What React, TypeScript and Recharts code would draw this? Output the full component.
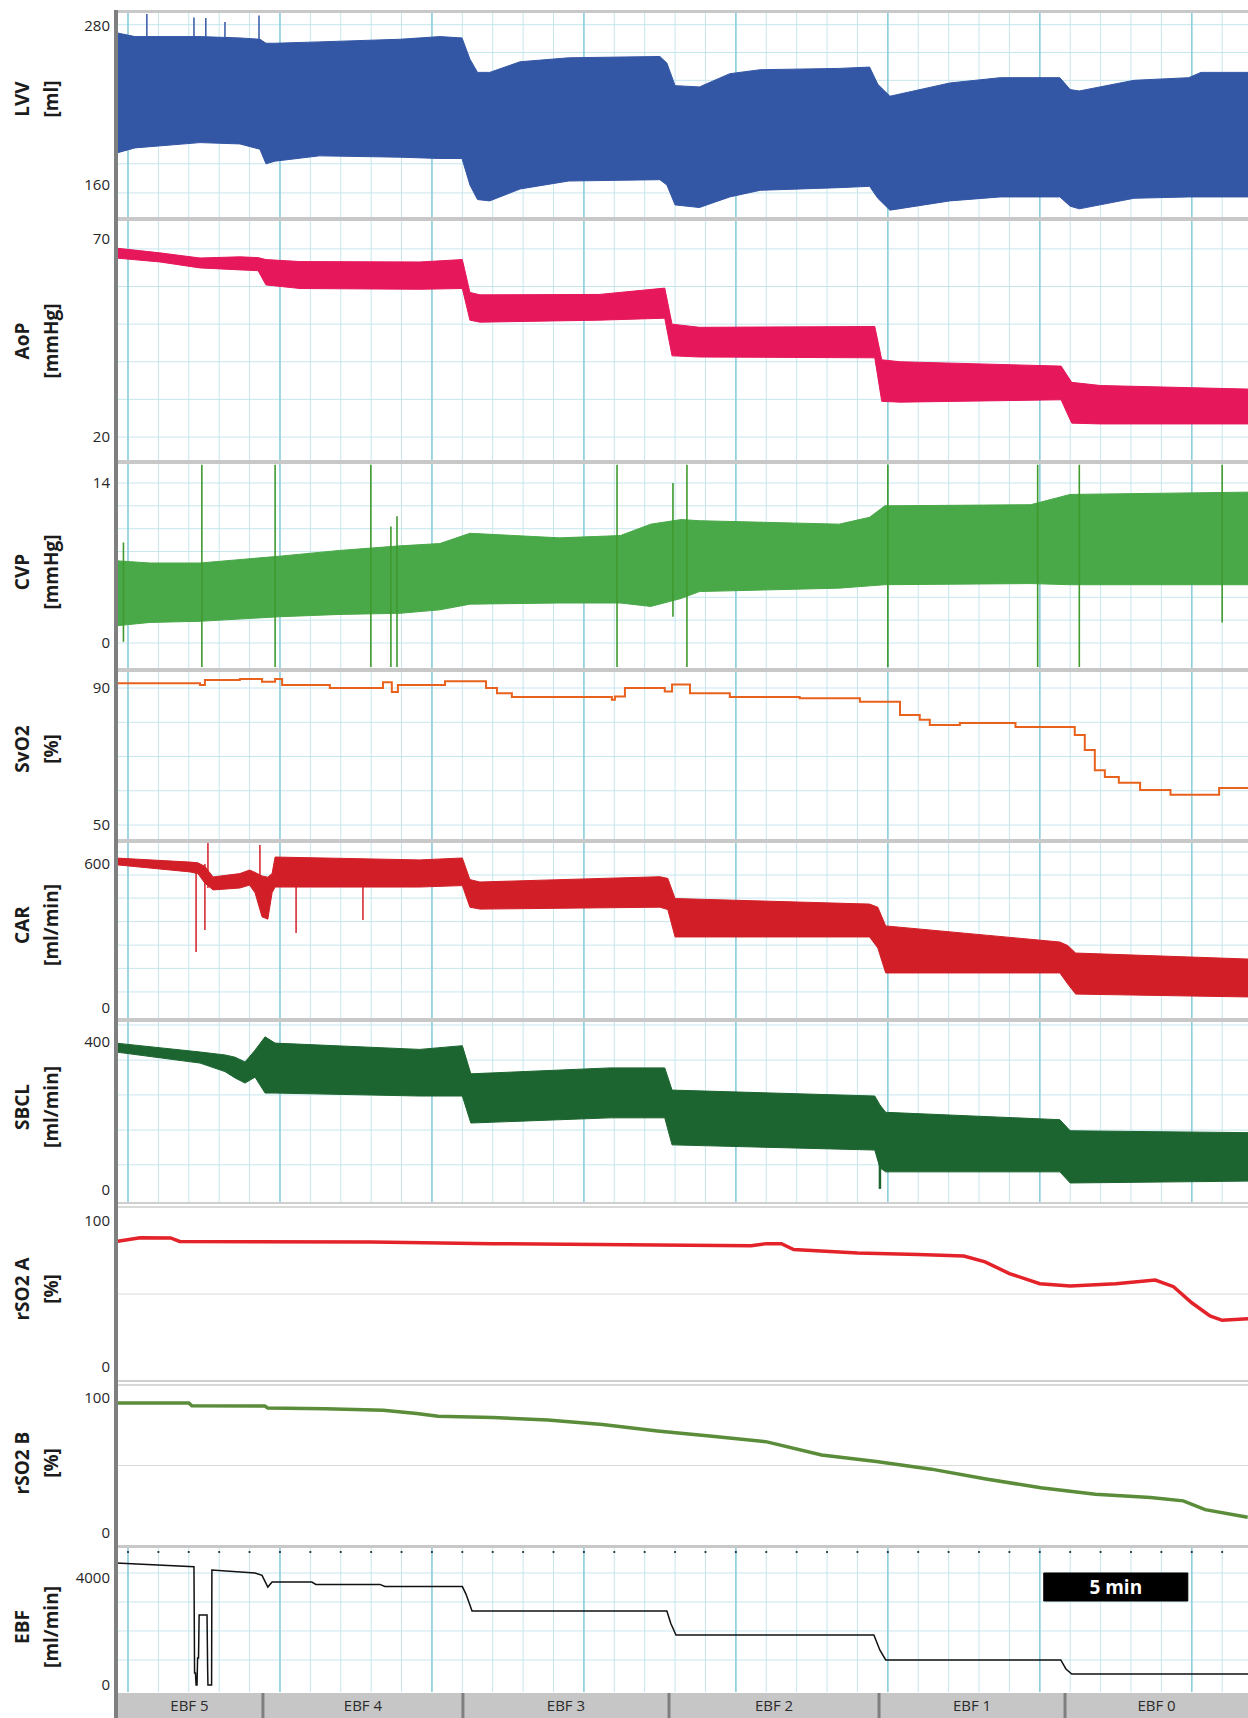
import React from 'react';
import {
  ComposedChart, Area, Line, XAxis, YAxis, CartesianGrid,
  ReferenceLine, ReferenceArea, ReferenceDot,
} from 'recharts';

const FONT = "'Open Sans', 'Noto Sans', 'DejaVu Sans', sans-serif";

// ---------------- time axis (minutes) ----------------
const X_DOMAIN: [number, number] = [-0.395, 36.85];
const MINUTE_LINES = [0,1,2,3,4,5,6,7,8,9,10,11,12,13,14,15,16,17,18,19,20,21,22,23,24,25,26,27,28,29,30,31,32,33,34,35,36];
const MAJOR_LINES = [0, 5, 10, 15, 20, 25, 30, 35];

// ---------------- LVV [ml] ----------------
const lvvT  = [-0.4, 0.23, 2.37, 3.68, 4.34, 4.54, 4.84, 6.3, 8.95, 10.26, 10.99, 11.25, 11.5, 11.9, 12.9, 14.5, 17.5, 17.73, 18.0, 18.8, 19.8, 20.8, 23.4, 24.4, 24.67, 25.07, 27.04, 28.7, 30.66, 31.0, 31.3, 33.1, 34.9, 35.3, 36.85];
const lvvLo = [184, 188, 192, 191, 187, 176, 178, 182, 181, 180, 180, 160, 149, 148, 157, 163, 164, 160, 145, 143, 151, 156, 158, 159, 150, 141, 148, 151, 151, 144, 142, 150, 151, 151, 151];
const lvvHi = [275, 272, 272, 271, 270, 267, 267, 268, 270, 272, 271, 255, 245, 245, 253, 256, 257, 252, 235, 234, 244, 247, 248, 249, 236, 227, 237, 241, 241, 232, 231, 239, 241, 245, 245];
const lvvSpikeT  = [0.62, 2.17, 2.56, 3.19, 4.31];
const lvvSpikeLo = [268, 268, 268, 268, 268];
const lvvSpikeHi = [289, 286.5, 286, 283, 288];
const lvvGrid = [281, 260, 239, 218, 197, 176, 154];

// ---------------- AoP [mmHg] ----------------
const aopT  = [-0.4, 1.05, 2.37, 3.68, 4.28, 4.54, 5.66, 9.6, 11.0, 11.25, 11.58, 15.5, 17.66, 17.9, 18.8, 24.57, 24.8, 25.4, 30.7, 31.05, 32.0, 36.85];
const aopLo = [65.2, 64.2, 62.7, 62.2, 62, 58.4, 57.5, 57.3, 57.5, 49.5, 49, 49.5, 50, 40.5, 40.2, 40, 29, 28.8, 29.4, 23.5, 23.3, 23.3];
const aopHi = [67.7, 66.5, 65.2, 65.5, 65.3, 64.8, 64.3, 64.2, 64.8, 56.5, 55.9, 56, 57.6, 48.5, 47.7, 47.9, 39.5, 39, 37.9, 33.8, 33, 32.1];
const aopGrid = [67.5, 58, 48.5, 39, 29.5, 20];

// ---------------- CVP [mmHg] ----------------
const cvpT  = [-0.4, 0.72, 2.37, 5.0, 6.97, 8.95, 10.26, 11.25, 14.2, 16.2, 17.2, 18.2, 18.8, 23.4, 24.4, 24.9, 29.7, 31.0, 36.85];
const cvpLo = [1.5, 1.8, 1.9, 2.3, 2.5, 2.6, 2.9, 3.4, 3.5, 3.5, 3.2, 3.9, 4.5, 4.8, 5.0, 5.1, 5.2, 5.1, 5.1];
const cvpHi = [7.2, 7.0, 7.0, 7.6, 8.1, 8.5, 8.7, 9.6, 9.2, 9.4, 10.4, 10.8, 10.7, 10.4, 11.0, 12.0, 12.1, 13.0, 13.2];
const cvpSpikeT  = [-0.15, 2.43, 4.84, 7.99, 8.65, 8.85, 16.09, 17.93, 18.39, 25.0, 29.93, 31.3, 36.0];
const cvpSpikeLo = [0.1, -2.1, -2.1, -2.1, -2.1, -2.1, -2.1, 2.3, -2.1, -2.1, -2.1, -2.1, 1.8];
const cvpSpikeHi = [8.8, 15.6, 15.6, 15.6, 10.2, 11.1, 15.6, 14.0, 15.6, 15.6, 15.6, 15.6, 15.6];
const cvpGrid = [0, 2, 4, 6, 8, 10, 12, 14];

// ---------------- SvO2 [%] ----------------
const svT = [-0.4, 2.37, 2.53, 3.68, 4.41, 4.84, 5.07, 6.64, 7.96, 8.39, 8.68, 8.88, 10.26, 10.43, 11.64, 11.78, 12.14, 12.63, 15.92, 16.02, 16.35, 17.66, 17.9, 18.3, 18.49, 19.8, 22.1, 24.08, 25.07, 25.4, 26.05, 26.38, 27.37, 29.0, 29.2, 30.82, 31.15, 31.48, 31.81, 32.14, 32.6, 33.3, 34.3, 35.6, 35.9, 36.85];
const svV = [91.4, 90.9, 92.3, 92.6, 91.8, 92.6, 90.9, 90.0, 90.0, 91.7, 88.8, 90.9, 90.9, 92.0, 92.0, 90.0, 88.5, 87.4, 86.6, 87.5, 90.0, 89.0, 91.0, 91.0, 88.5, 87.4, 87.0, 86.0, 86.0, 82.1, 80.7, 79.2, 79.8, 79.8, 78.6, 78.6, 76.3, 71.9, 66, 64, 62.3, 60.2, 58.8, 58.8, 60.8, 60.8];
const svGrid = [50, 60, 70, 80, 90];

// ---------------- CAR [ml/min] ----------------
const carT  = [-0.4, 2.04, 2.3, 2.53, 2.8, 3.68, 4.0, 4.18, 4.41, 4.6, 4.74, 4.84, 9.6, 11.0, 11.25, 11.58, 17.5, 17.76, 18.0, 24.4, 24.67, 24.93, 30.66, 30.92, 31.18, 36.85];
const carLo = [597, 567, 560, 520, 492, 500, 512, 480, 380, 370, 480, 504, 504, 510, 420, 412, 420, 410, 296, 296, 250, 146, 146, 100, 58, 46];
const carHi = [625, 608, 605, 590, 546, 560, 575, 565, 550, 545, 560, 629, 617, 625, 535, 525, 547, 540, 456, 433, 420, 342, 275, 260, 229, 204];
const carSpikeT  = [2.24, 2.53, 2.63, 4.34, 5.53, 7.73];
const carSpikeLo = [233, 325, 500, 500, 312, 367];
const carSpikeHi = [600, 600, 687, 679, 520, 510];
const carGrid = [650, 554, 458, 360, 262, 165, 67];

// ---------------- SBCL [ml/min] ----------------
const sbT  = [-0.4, 2.37, 3.19, 3.52, 3.85, 4.18, 4.51, 4.84, 9.6, 11.0, 11.28, 15.86, 17.66, 17.9, 24.57, 24.74, 24.93, 30.66, 31.0, 36.85];
const sbLo = [373, 343, 320, 303, 289, 305, 262, 262, 254, 254, 181, 195, 195, 122, 108, 60, 49, 49, 19, 24];
const sbHi = [397, 373, 365, 359, 346, 378, 414, 397, 380, 390, 314, 330, 330, 270, 254, 230, 210, 190, 160, 155];
const sbSpikeT  = [24.74];
const sbSpikeLo = [3];
const sbSpikeHi = [120];
const sbGrid = [446, 351, 257, 162, 68];

// ---------------- rSO2 A / B [%] ----------------
const raT = [-0.39, 0.4, 1.4, 1.7, 8.0, 12.0, 17.4, 20.5, 21.0, 21.5, 21.9, 24.0, 26.0, 27.5, 28.2, 29.0, 30.0, 31.0, 32.5, 33.8, 34.4, 35.0, 35.6, 36.0, 36.85];
const raV = [86, 88.5, 88.4, 86, 85.6, 84.5, 83.5, 83.0, 84.5, 84.5, 80.5, 78, 77, 76, 72, 64, 57, 55.5, 57, 59.5, 55, 44, 35, 32, 33];
const rbT = [-0.39, 2.0, 2.1, 4.5, 4.6, 6.5, 8.4, 9.5, 10.2, 12.0, 13.81, 15.61, 17.42, 19.22, 21.02, 22.82, 24.62, 26.43, 28.23, 30.03, 31.83, 33.64, 34.72, 35.44, 36.84];
const rbV = [96.3, 96.3, 94.2, 94, 92.6, 92, 91, 88.5, 86.5, 85.5, 83.7, 80.4, 75.6, 71.6, 67.5, 57.8, 53, 47.3, 40, 33.5, 28.7, 26.3, 23.8, 17.3, 11.7];
const rGrid = [50];

// ---------------- EBF [ml/min] ----------------
const ebfT = [-0.4, 2.17, 2.19, 2.22, 2.24, 2.27, 2.29, 2.32, 2.34, 2.6, 2.62, 2.63, 2.75, 2.76, 4.18, 4.41, 4.6, 4.74, 6.05, 6.18, 8.29, 8.45, 11.0, 11.12, 11.32, 17.73, 17.86, 18.03, 24.54, 24.74, 24.93, 30.69, 30.86, 31.05, 36.85];
const ebfV = [4560, 4420, 450, 450, 0, 0, 1010, 1010, 2617, 2617, 640, 0, 0, 4300, 4190, 4100, 3660, 3850, 3850, 3760, 3760, 3680, 3680, 3400, 2770, 2770, 2300, 1870, 1870, 1300, 935, 935, 600, 411, 411];
const ebfGrid = [4187, 3103, 2019, 935];
const ebfTopMarkValue = 4972;
const scaleBarMinutes = [30.13, 34.87];
const scaleBarRange = [3140, 4187];
const scaleBarText = '5 min';

// ---------------- EBF phases ----------------
const phaseLabels = ['EBF 5', 'EBF 4', 'EBF 3', 'EBF 2', 'EBF 1', 'EBF 0'];
const phaseBounds = [-0.395, 4.44, 11.02, 17.80, 24.71, 30.83, 36.85];

// ---------------- styling ----------------
const GRID_MINOR = '#c6e6ee';
const GRID_MAJOR = '#8fcfdc';
const C = {
  lvv: '#3356a5', aop: '#e6175a', cvp: '#49a848', sv: '#e8621d',
  car: '#d21f27', sb: '#1d6530', ra: '#e3222a', rb: '#5a8c39', ebf: '#111111',
};

const envRows = (t: number[], lo: number[], hi: number[]) => t.map((x, i) => ({ t: x, env: [lo[i], hi[i]] }));
const lineRows = (t: number[], v: number[]) => t.map((x, i) => ({ t: x, v: v[i] }));

type Cfg = {
  name: string; unit: string; top: number; bottom: number;
  t1: [number, number]; t2: [number, number]; labelY: number;
};

const PANELS: Record<string, Cfg> = {
  lvv:  { name: 'LVV',    unit: '[ml]',     top: 13,   bottom: 217,  t1: [280, 26],   t2: [160, 185],  labelY: 99 },
  aop:  { name: 'AoP',    unit: '[mmHg]',   top: 221,  bottom: 460,  t1: [70, 239],   t2: [20, 437],   labelY: 341 },
  cvp:  { name: 'CVP',    unit: '[mmHg]',   top: 464,  bottom: 668,  t1: [14, 483],   t2: [0, 643],    labelY: 572 },
  sv:   { name: 'SvO2',   unit: '[%]',      top: 672,  bottom: 839,  t1: [90, 688],   t2: [50, 825],   labelY: 749 },
  car:  { name: 'CAR',    unit: '[ml/min]', top: 843,  bottom: 1018, t1: [600, 864],  t2: [0, 1008],   labelY: 925 },
  sb:   { name: 'SBCL',   unit: '[ml/min]', top: 1022, bottom: 1202, t1: [400, 1042], t2: [0, 1190],   labelY: 1107 },
  ra:   { name: 'rSO2 A', unit: '[%]',      top: 1208, bottom: 1380, t1: [100, 1221], t2: [0, 1367],   labelY: 1289 },
  rb:   { name: 'rSO2 B', unit: '[%]',      top: 1386, bottom: 1545, t1: [100, 1398], t2: [0, 1533],   labelY: 1463 },
  ebf:  { name: 'EBF',    unit: '[ml/min]', top: 1548, bottom: 1692, t1: [4000, 1578], t2: [0, 1685],  labelY: 1627 },
};

function domainOf(c: Cfg): [number, number] {
  const k = (c.t2[1] - c.t1[1]) / (c.t1[0] - c.t2[0]);
  return [c.t2[0] - (c.bottom - c.t2[1]) / k, c.t1[0] + (c.t1[1] - c.top) / k];
}

function spikes(key: string, t: number[], lo: number[], hi: number[], color: string, w = 1.5) {
  return t.map((x, i) => (
    <ReferenceLine key={`${key}-s${i}`} segment={[{ x, y: lo[i] }, { x, y: hi[i] }]}
      stroke={color} strokeWidth={w} ifOverflow="hidden" />
  ));
}

const PAD = 12; // extra svg room above/below the plot so tick texts are never clipped

function Panel({ cfg, rows, grid, gridY, children }: { cfg: Cfg; rows: any[]; grid: 'blue' | 'plain'; gridY: number[]; children: any }) {
  const dom = domainOf(cfg);
  return (
    <div style={{ position: 'absolute', left: 0, top: cfg.top - PAD }}>
      <ComposedChart width={1248} height={cfg.bottom - cfg.top + 2 * PAD} data={rows}
        margin={{ top: PAD, right: 0, bottom: PAD, left: 0 }}>
        {grid === 'blue' ? (
          <CartesianGrid stroke={GRID_MINOR} strokeWidth={1} verticalValues={MINUTE_LINES} horizontalValues={gridY} />
        ) : (
          <CartesianGrid stroke="#d9d9d9" strokeWidth={1} vertical={false} horizontalValues={gridY} />
        )}
        {grid === 'blue' ? (
          <CartesianGrid stroke={GRID_MAJOR} strokeWidth={1.6} horizontal={false} verticalValues={MAJOR_LINES} />
        ) : null}
        <XAxis type="number" dataKey="t" domain={X_DOMAIN} hide allowDataOverflow />
        <YAxis type="number" domain={dom} ticks={[cfg.t1[0], cfg.t2[0]]} width={116}
          axisLine={false} tickLine={false} tickSize={4} tickMargin={2} interval={0}
          allowDataOverflow tick={{ fill: '#262626', fontSize: 15, fontFamily: FONT }} />
        {children}
      </ComposedChart>
    </div>
  );
}

const envArea = (color: string) => (
  <Area type="linear" dataKey="env" stroke={color} strokeWidth={1} fill={color} fillOpacity={1}
    dot={false} activeDot={false} isAnimationActive={false} />
);

const SEPARATORS = [
  { y: 10, h: 3, c: '#c8c8c8' }, { y: 217, h: 4, c: '#c8c8c8' }, { y: 460, h: 4, c: '#c8c8c8' },
  { y: 668, h: 4, c: '#c8c8c8' }, { y: 839, h: 4, c: '#c8c8c8' }, { y: 1018, h: 4, c: '#c8c8c8' },
  { y: 1202, h: 2, c: '#cfcfcf' }, { y: 1206, h: 2, c: '#d8d8d8' },
  { y: 1380, h: 2, c: '#cfcfcf' }, { y: 1384, h: 2, c: '#d8d8d8' },
  { y: 1545, h: 3, c: '#c8c8c8' },
];

export default function App() {
  const P = PANELS;
  const bandRows = [{ t: X_DOMAIN[0], v: 0 }, { t: X_DOMAIN[1], v: 1 }];
  return (
    <div style={{ position: 'absolute', left: 0, top: 0, width: 1248, height: 1718, background: '#ffffff', overflow: 'hidden', fontFamily: FONT }}>
      {/* phase band (drawn first; the EBF chart's svg sits above it) */}
      <div style={{ position: 'absolute', left: 0, top: 1693 }}>
        <ComposedChart width={1248} height={25} data={bandRows} margin={{ top: 0, right: 0, bottom: 0, left: 116 }}>
          <XAxis type="number" dataKey="t" domain={X_DOMAIN} hide allowDataOverflow />
          <YAxis type="number" domain={[0, 1]} hide allowDataOverflow />
          <Line type="linear" dataKey="v" stroke="none" strokeWidth={0} dot={false} activeDot={false} isAnimationActive={false} />
          {phaseLabels.map((lab, i) => (
            <ReferenceArea key={lab} x1={phaseBounds[i]} x2={phaseBounds[i + 1]} y1={0} y2={1}
              fill="#c6c6c6" fillOpacity={1} stroke="none" ifOverflow="visible"
              label={{ value: lab, position: 'center', fill: '#2b2b2b', fontSize: 15, fontFamily: FONT }} />
          ))}
          {phaseBounds.slice(1, -1).map((b) => (
            <ReferenceLine key={`b${b}`} x={b} stroke="#7f7f7f" strokeWidth={3} ifOverflow="visible" />
          ))}
        </ComposedChart>
      </div>

      <Panel cfg={P.lvv} rows={envRows(lvvT, lvvLo, lvvHi)} grid="blue" gridY={lvvGrid}>
        {envArea(C.lvv)}
        {spikes('lvv', lvvSpikeT, lvvSpikeLo, lvvSpikeHi, C.lvv)}
      </Panel>
      <Panel cfg={P.aop} rows={envRows(aopT, aopLo, aopHi)} grid="blue" gridY={aopGrid}>
        {envArea(C.aop)}
      </Panel>
      <Panel cfg={P.cvp} rows={envRows(cvpT, cvpLo, cvpHi)} grid="blue" gridY={cvpGrid}>
        {envArea(C.cvp)}
        {spikes('cvp', cvpSpikeT, cvpSpikeLo, cvpSpikeHi, '#3f9a2e', 1.6)}
      </Panel>
      <Panel cfg={P.sv} rows={lineRows(svT, svV)} grid="blue" gridY={svGrid}>
        <Line type="stepAfter" dataKey="v" stroke={C.sv} strokeWidth={2} dot={false} activeDot={false} isAnimationActive={false} />
      </Panel>
      <Panel cfg={P.car} rows={envRows(carT, carLo, carHi)} grid="blue" gridY={carGrid}>
        {envArea(C.car)}
        {spikes('car', carSpikeT, carSpikeLo, carSpikeHi, C.car)}
      </Panel>
      <Panel cfg={P.sb} rows={envRows(sbT, sbLo, sbHi)} grid="blue" gridY={sbGrid}>
        {envArea(C.sb)}
        {spikes('sb', sbSpikeT, sbSpikeLo, sbSpikeHi, C.sb, 2.5)}
      </Panel>
      <Panel cfg={P.ra} rows={lineRows(raT, raV)} grid="plain" gridY={rGrid}>
        <Line type="linear" dataKey="v" stroke={C.ra} strokeWidth={3.5} dot={false} activeDot={false} isAnimationActive={false} />
      </Panel>
      <Panel cfg={P.rb} rows={lineRows(rbT, rbV)} grid="plain" gridY={rGrid}>
        <Line type="linear" dataKey="v" stroke={C.rb} strokeWidth={3.5} dot={false} activeDot={false} isAnimationActive={false} />
      </Panel>
      <Panel cfg={P.ebf} rows={lineRows(ebfT, ebfV)} grid="blue" gridY={ebfGrid}>
        <Line type="linear" dataKey="v" stroke={C.ebf} strokeWidth={1.5} dot={false} activeDot={false} isAnimationActive={false} />
        {MINUTE_LINES.map((m) => (
          <ReferenceDot key={`d${m}`} x={m} y={ebfTopMarkValue} r={1.1} fill="#222" stroke="none" />
        ))}
        <ReferenceArea x1={scaleBarMinutes[0]} x2={scaleBarMinutes[1]} y1={scaleBarRange[0]} y2={scaleBarRange[1]}
          fill="#000" fillOpacity={1} stroke="#000"
          label={{ value: scaleBarText, position: 'center', fill: '#ffffff', fontSize: 19, fontWeight: 700, fontFamily: FONT }} />
      </Panel>

      {SEPARATORS.map((s, i) => (
        <div key={i} style={{ position: 'absolute', left: 116, top: s.y, width: 1132, height: s.h, background: s.c }} />
      ))}
      <div style={{ position: 'absolute', left: 114, top: 10, width: 4, height: 1708, background: '#7f7f7f' }} />

      <svg width={116} height={1718} style={{ position: 'absolute', left: 0, top: 0 }}>
        {Object.keys(P).map((k) => {
          const c = P[k];
          return (
            <g key={k} fontFamily={FONT} fontWeight={700} fontSize={19} fill="#1c1c1c">
              <text transform={`translate(29, ${c.labelY}) rotate(-90)`} textAnchor="middle">{c.name}</text>
              <text transform={`translate(58, ${c.labelY}) rotate(-90)`} textAnchor="middle">{c.unit}</text>
            </g>
          );
        })}
      </svg>
    </div>
  );
}
